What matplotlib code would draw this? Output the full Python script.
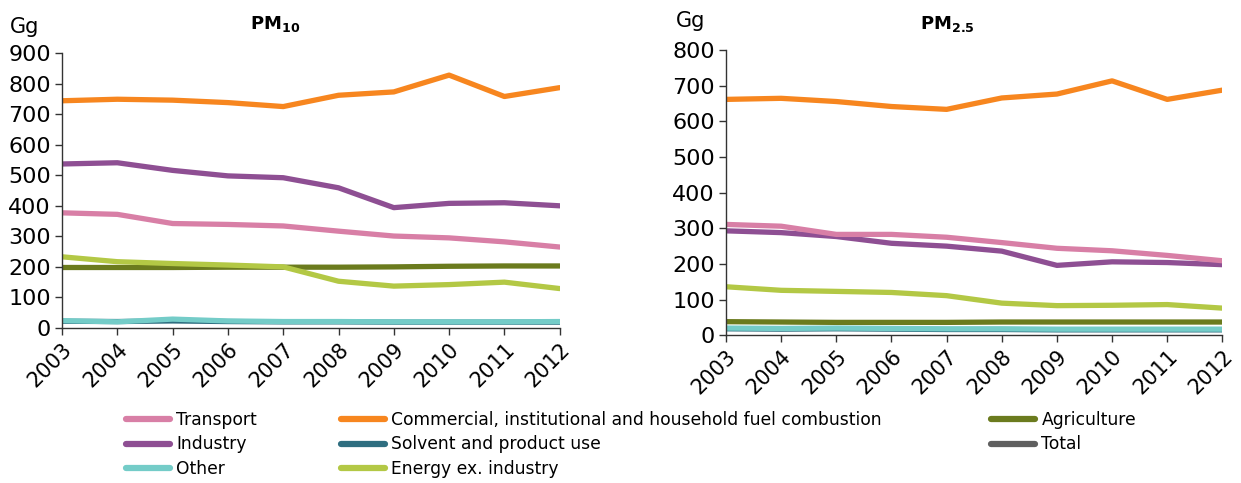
import matplotlib
matplotlib.use("Agg")
import matplotlib.pyplot as plt
from matplotlib.lines import Line2D

years = [2003, 2004, 2005, 2006, 2007, 2008, 2009, 2010, 2011, 2012]

# PM10 emissions (Gg)
pm10_transport = [377, 372, 342, 339, 334, 317, 301, 295, 282, 265]
pm10_commercial = [744, 749, 746, 738, 725, 762, 773, 828, 758, 787]
pm10_agriculture = [198, 198, 198, 199, 199, 199, 200, 202, 203, 203]
pm10_industry = [537, 541, 516, 498, 492, 459, 394, 408, 410, 400]
pm10_solvent = [22, 21, 23, 21, 20, 20, 19, 19, 19, 19]
pm10_other = [24, 20, 29, 23, 21, 21, 20, 20, 20, 21]
pm10_energy = [233, 217, 211, 206, 200, 153, 137, 142, 150, 129]

# PM2.5 emissions (Gg)
pm25_transport = [311, 306, 283, 283, 275, 260, 244, 237, 224, 209]
pm25_commercial = [662, 665, 656, 642, 634, 666, 677, 714, 662, 688]
pm25_agriculture = [38, 37, 36, 36, 36, 37, 37, 37, 37, 37]
pm25_industry = [293, 288, 277, 258, 250, 236, 196, 206, 204, 198]
pm25_solvent = [18, 17, 18, 17, 16, 16, 15, 15, 15, 15]
pm25_other = [20, 19, 20, 19, 18, 18, 17, 17, 17, 17]
pm25_energy = [136, 126, 123, 120, 111, 90, 83, 84, 86, 76]

colors = {
    "Transport": "#d87fa6",
    "Commercial, institutional and household fuel combustion": "#f7861f",
    "Agriculture": "#6b7b1e",
    "Industry": "#8e4f93",
    "Solvent and product use": "#2f6e80",
    "Total": "#5f5f5f",
    "Other": "#74ccc8",
    "Energy ex. industry": "#b3c845",
}

plt.rcParams['font.family'] = ['DejaVu Sans']
fig = plt.figure(figsize=(12.41, 4.83), dpi=100)
ax1 = fig.add_axes([0.050, 0.321, 0.401, 0.569])
ax2 = fig.add_axes([0.585, 0.306, 0.400, 0.590])

lw = 3.8


def draw(ax, series, ymax):
    # draw from bottom layer to top layer
    order = ["Solvent and product use", "Other", "Agriculture", "Energy ex. industry",
             "Industry", "Transport",
             "Commercial, institutional and household fuel combustion"]
    for name in order:
        ax.plot(years, series[name], color=colors[name], lw=lw,
                solid_capstyle='round', solid_joinstyle='round')
    ax.set_xlim(years[0], years[-1])
    ax.set_ylim(0, ymax)
    ax.set_xticks(years)
    ax.set_xticklabels([str(y) for y in years], rotation=45, ha='right',
                       rotation_mode='anchor', fontsize=15)
    ax.set_yticks(range(0, ymax + 1, 100))
    ax.tick_params(axis='y', labelsize=16, length=5, width=1, color='#333333', pad=3)
    ax.tick_params(axis='x', length=5, width=1, color='#333333', pad=3)
    for s in ['top', 'right']:
        ax.spines[s].set_visible(False)
    for s in ['left', 'bottom']:
        ax.spines[s].set_color('#333333')
        ax.spines[s].set_linewidth(1)


draw(ax1, {
    "Transport": pm10_transport,
    "Commercial, institutional and household fuel combustion": pm10_commercial,
    "Agriculture": pm10_agriculture,
    "Industry": pm10_industry,
    "Solvent and product use": pm10_solvent,
    "Other": pm10_other,
    "Energy ex. industry": pm10_energy,
}, 900)
draw(ax2, {
    "Transport": pm25_transport,
    "Commercial, institutional and household fuel combustion": pm25_commercial,
    "Agriculture": pm25_agriculture,
    "Industry": pm25_industry,
    "Solvent and product use": pm25_solvent,
    "Other": pm25_other,
    "Energy ex. industry": pm25_energy,
}, 800)

fig.text(10 / 1241, 1 - 27 / 483, "Gg", fontsize=15, va='center', ha='left')
fig.text(676 / 1241, 1 - 21 / 483, "Gg", fontsize=15, va='center', ha='left')
fig.text(250 / 1241, 1 - 24 / 483, r'$\mathbf{PM_{10}}$', fontsize=13, va='center', ha='left')
fig.text(920 / 1241, 1 - 24 / 483, r'$\mathbf{PM_{2.5}}$', fontsize=13, va='center', ha='left')

# legend, three separate columns
cols = [["Transport", "Industry", "Other"],
        ["Commercial, institutional and household fuel combustion",
         "Solvent and product use", "Energy ex. industry"],
        ["Agriculture", "Total"]]
col_x = [126, 341, 991]
for names, x in zip(cols, col_x):
    handles = [Line2D([], [], color=colors[n], lw=4.5, solid_capstyle='round') for n in names]
    fig.legend(handles, names, loc='upper left', bbox_to_anchor=(x / 1241, 1 - 411 / 483),
               frameon=False, fontsize=12.3, handlelength=2.6, handletextpad=0.35,
               labelspacing=0.38, borderaxespad=0, borderpad=0)

fig.savefig("out.png", dpi=100)
